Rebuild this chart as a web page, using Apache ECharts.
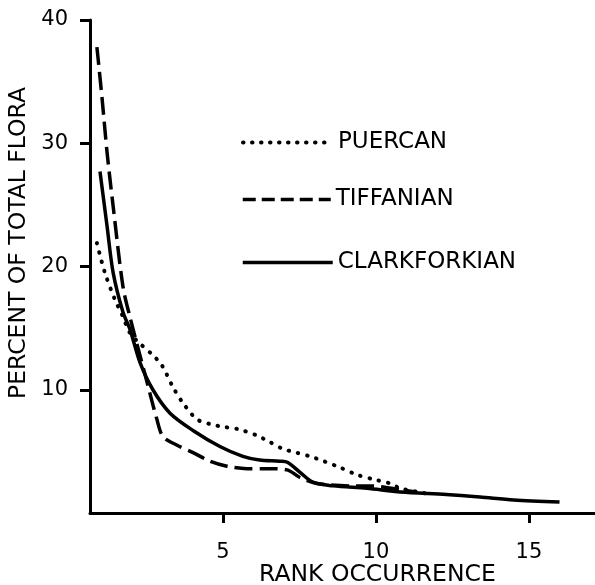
<!DOCTYPE html>
<html><head><meta charset="utf-8">
<script src="https://cdn.jsdelivr.net/npm/echarts@6/dist/echarts.min.js"></script>
<style>html,body{margin:0;padding:0;background:#fff}#c{width:595px;height:585px}</style>
</head><body><div id="c"></div>
<script>
// Series: [rank, percent]
const puercan = [[0.88,21.9],[1.14,19.5],[1.47,17.3],[1.7,16.1],[1.96,14.6],[2.22,13.9],[2.71,12.8],[3.0,12.0],[3.37,10.2],[3.7,8.9],[4.15,7.6],[4.6,7.2],[5.0,7.0],[5.5,6.8],[6.1,6.3],[6.5,5.8],[6.96,5.2],[7.4,4.9],[7.84,4.6],[8.3,4.2],[8.82,3.7],[9.38,3.1],[9.97,2.7],[10.46,2.4],[10.8,2.0],[11.4,1.7],[11.8,1.5]];
const tiffanian = [[0.88,37.8],[1.05,33.6],[1.21,29.3],[1.41,24.9],[1.73,18.4],[1.96,15.9],[2.52,10.6],[2.84,7.6],[3.04,6.2],[3.5,5.5],[4.02,4.9],[4.58,4.2],[5.13,3.8],[5.78,3.6],[6.4,3.6],[7.1,3.5],[7.5,2.9],[8.07,2.4],[9.15,2.2],[9.9,2.2],[10.5,2.0],[11.3,1.7]];
const clarkforkian = [[0.98,27.7],[1.21,23.3],[1.41,19.5],[1.73,16.3],[1.96,14.9],[2.29,12.2],[2.71,10.0],[3.27,8.1],[4.02,6.7],[4.9,5.4],[5.65,4.6],[6.2,4.3],[6.86,4.2],[7.12,4.1],[7.52,3.3],[7.94,2.5],[8.6,2.2],[9.7,2.0],[10.8,1.7],[12.3,1.5],[13.4,1.3],[14.5,1.06],[16.0,0.9]];
const seriesNames = ['PUERCAN','TIFFANIAN','CLARKFORKIAN'];
const xTicks = [5,10,15];
const yTicks = [10,20,30,40];
const xTitle = 'RANK OCCURRENCE';
const yTitle = 'PERCENT OF TOTAL FLORA';

const FONT = 'DejaVu Sans';
const chart = echarts.init(document.getElementById('c'), null, {renderer:'canvas'});
const legendText = {fontFamily:FONT, fontSize:23, color:'#000', padding:[0,0,6,0]};
const legendItem = {opacity:0};
chart.setOption({
  animation:false,
  backgroundColor:'#fff',
  color:['#000','#000','#000'],
  grid:{left:90, right:0, top:20, bottom:72},
  xAxis:{type:'value', min:0.654, max:17.16,
    axisLine:{lineStyle:{color:'#000', width:3}},
    axisTick:{show:true, customValues:xTicks, length:10, lineStyle:{color:'#000', width:3}},
    axisLabel:{customValues:xTicks, margin:29, fontFamily:FONT, fontSize:21, color:'#000'},
    splitLine:{show:false}},
  yAxis:{type:'value', min:0, max:40,
    axisLine:{show:true, lineStyle:{color:'#000', width:3}},
    axisTick:{show:true, customValues:yTicks, length:10, lineStyle:{color:'#000', width:3}},
    axisLabel:{customValues:yTicks, margin:22, fontFamily:FONT, fontSize:21, color:'#000'},
    splitLine:{show:false}},
  legend:[
    {data:[seriesNames[0]], left:236, top:126, orient:'vertical', itemWidth:90, itemHeight:14, textStyle:legendText, itemStyle:legendItem,
      lineStyle:{width:4, type:[0.5,8.5], cap:'round'}},
    {data:[seriesNames[1]], left:236, top:183, orient:'vertical', itemWidth:88, itemHeight:14, textStyle:legendText, itemStyle:legendItem,
      lineStyle:{width:3.5, type:[13,6]}},
    {data:[seriesNames[2]], left:236, top:246, orient:'vertical', itemWidth:90, itemHeight:14, textStyle:legendText, itemStyle:legendItem,
      lineStyle:{width:3.5}}
  ],
  graphic:[
    {type:'text', left:259, top:563, style:{text:xTitle, font:'23.5px "DejaVu Sans"', fill:'#000'}},
    {type:'text', rotation:Math.PI/2, x:7, y:399, style:{text:yTitle, font:'23.5px "DejaVu Sans"', fill:'#000', textAlign:'left', textVerticalAlign:'top'}}
  ],
  series:[
    {name:seriesNames[0], type:'line', data:puercan, smooth:0.3, symbol:'none',
      itemStyle:{color:'#000'},
      lineStyle:{color:'#000', width:4, type:[0.5,9], cap:'round'}},
    {name:seriesNames[1], type:'line', data:tiffanian, smooth:0.3, symbol:'none',
      itemStyle:{color:'#000'},
      lineStyle:{color:'#000', width:3.5, type:[18,7]}},
    {name:seriesNames[2], type:'line', data:clarkforkian, smooth:0.3, symbol:'none',
      itemStyle:{color:'#000'},
      lineStyle:{color:'#000', width:3.5}}
  ]
});
</script></body></html>
